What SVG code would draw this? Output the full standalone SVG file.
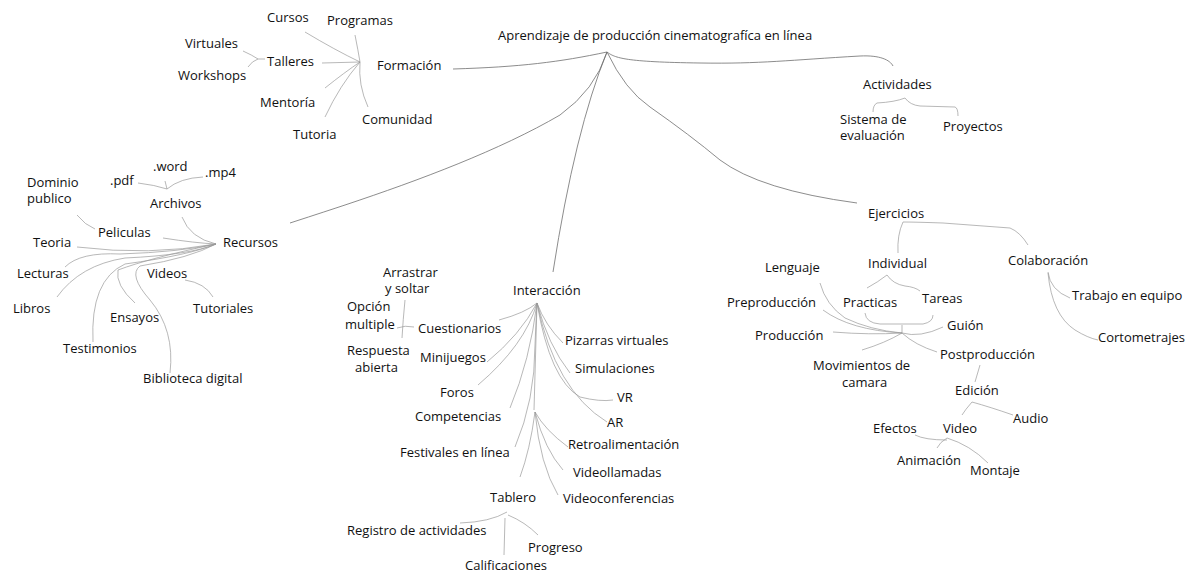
<svg xmlns="http://www.w3.org/2000/svg" width="1199" height="575" viewBox="0 0 1199 575">
<style>
text{font-family:"Open Sans","Noto Sans","Liberation Sans",sans-serif;font-size:13px;fill:#111}
.c{fill:none;stroke:#9a9a9a;stroke-width:0.7}
.m{fill:none;stroke:#6e6e6e;stroke-width:0.8}
</style>
<rect width="1199" height="575" fill="#fff"/>
<g id="connectors">
<path class="m" d="M453,69 C520,67 560,62 607,52"/>
<path class="m" d="M607,52 C615,58 625,62 700,63 C760,64 790,60 860,56 C880,55 890,60 893,66"/>
<path class="m" d="M290,223 Q330,210 345,205 C420,180 500,150 560,115 Q595,90 607,52"/>
<path class="m" d="M607,52 Q575,130 553,272"/>
<path class="m" d="M607,52 Q625,90 650,107 Q690,135 720,160 Q760,190 857,203"/>
<path class="c" d="M305,32 Q335,50 360,62"/>
<path class="c" d="M355,35 Q358,50 360,62"/>
<path class="c" d="M322,63 L360,62"/>
<path class="c" d="M325,88 Q345,72 360,62"/>
<path class="c" d="M325,117 Q340,85 360,62"/>
<path class="c" d="M368,107 Q358,85 360,62"/>
<path class="c" d="M243,51 Q252,55 258,59 M248,67 Q252,61 258,59 M258,59 L265,59"/>
<path class="c" d="M905,98 Q895,102 877,103 Q873,105 873,112 M905,98 Q910,105 920,106 L955,107 Q958,108 958,116"/>
<path class="c" d="M182,217 Q190,238 216,244"/>
<path class="c" d="M163,238 Q195,243 216,244"/>
<path class="c" d="M77,247 Q150,256 216,244"/>
<path class="c" d="M65,267 Q80,252 120,254 Q180,252 216,244"/>
<path class="c" d="M57,297 Q80,265 125,258 Q190,255 216,244"/>
<path class="c" d="M93,342 Q90,280 125,264 Q190,255 216,244"/>
<path class="c" d="M135,303 Q115,285 118,270 Q150,258 216,244"/>
<path class="c" d="M170,373 Q175,330 150,300 Q128,275 140,266 Q190,258 216,244"/>
<path class="c" d="M185,280 Q205,283 213,297"/>
<path class="c" d="M77,215 Q85,225 95,229"/>
<path class="c" d="M138,183 Q155,185 167,189 M165,181 L167,189 M203,177 Q180,178 167,189"/>
<path class="c" d="M499,320 Q525,313 537,303"/>
<path class="c" d="M487,362 Q520,335 537,303"/>
<path class="c" d="M478,385 Q525,345 537,303"/>
<path class="c" d="M510,408 Q530,360 537,303"/>
<path class="c" d="M515,447 Q535,400 535,345 Q536,320 537,303"/>
<path class="c" d="M537,303 L534,410"/>
<path class="c" d="M537,303 Q545,325 563,343"/>
<path class="c" d="M537,303 Q548,345 570,373"/>
<path class="c" d="M537,303 Q550,380 580,397 Q600,402 613,400"/>
<path class="c" d="M537,303 Q555,390 607,422"/>
<path class="c" d="M535,412 Q545,430 568,447"/>
<path class="c" d="M535,412 Q545,450 563,470"/>
<path class="c" d="M535,412 Q540,465 558,495"/>
<path class="c" d="M535,412 Q530,450 520,477"/>
<path class="c" d="M507,512 Q490,522 460,523"/>
<path class="c" d="M505,518 L504,555"/>
<path class="c" d="M508,515 Q525,522 538,535"/>
<path class="c" d="M405,300 Q403,320 402,338 M397,328 Q405,325 414,327"/>
<path class="c" d="M903,222 Q897,235 898,253"/>
<path class="c" d="M903,222 Q915,222 943,223 L1010,228 Q1020,232 1028,245"/>
<path class="c" d="M887,275 Q878,282 867,288 M887,275 Q893,284 905,286 Q915,287 920,291"/>
<path class="c" d="M865,313 Q866,323 880,324 L923,324 Q933,322 933,315 M902,325 L902,333"/>
<path class="c" d="M820,283 Q826,305 845,318 Q870,330 902,333"/>
<path class="c" d="M823,310 Q850,330 902,333"/>
<path class="c" d="M833,332 Q870,335 902,333"/>
<path class="c" d="M902,333 Q920,338 943,327"/>
<path class="c" d="M902,333 Q915,345 937,352"/>
<path class="c" d="M902,333 Q885,343 862,350"/>
<path class="c" d="M1048,272 Q1050,290 1070,298"/>
<path class="c" d="M1048,273 Q1052,315 1075,330 Q1088,338 1098,340"/>
<path class="c" d="M980,365 L975,382"/>
<path class="c" d="M972,402 Q965,410 962,415 M972,402 Q990,407 1013,415"/>
<path class="c" d="M915,435 Q925,440 947,440 M937,448 Q940,442 947,438 M947,438 Q970,445 988,463"/>
</g>
<g id="root"><text x="498" y="40">Aprendizaje de producción cinematografíca en línea</text></g>
<g id="formacion"><text x="377" y="70">Formación</text></g>
<g id="cursos"><text x="267" y="22">Cursos</text></g>
<g id="programas"><text x="327" y="25">Programas</text></g>
<g id="virtuales"><text x="185" y="48">Virtuales</text></g>
<g id="talleres"><text x="267" y="66">Talleres</text></g>
<g id="workshops"><text x="178" y="80">Workshops</text></g>
<g id="mentoria"><text x="260" y="107">Mentoría</text></g>
<g id="tutoria"><text x="293" y="139">Tutoria</text></g>
<g id="comunidad"><text x="362" y="124">Comunidad</text></g>
<g id="actividades"><text x="863" y="89">Actividades</text></g>
<g id="sistema"><text x="840" y="124">Sistema de<tspan x="840" y="140">evaluación</tspan></text></g>
<g id="proyectos"><text x="943" y="131">Proyectos</text></g>
<g id="word"><text x="153" y="171">.word</text></g>
<g id="mp4"><text x="205" y="177">.mp4</text></g>
<g id="pdf"><text x="110" y="185">.pdf</text></g>
<g id="dominio"><text x="27" y="187">Dominio<tspan x="27" y="203">publico</tspan></text></g>
<g id="archivos"><text x="150" y="208">Archivos</text></g>
<g id="peliculas"><text x="98" y="237">Peliculas</text></g>
<g id="recursos"><text x="223" y="247">Recursos</text></g>
<g id="teoria"><text x="33" y="247">Teoria</text></g>
<g id="lecturas"><text x="17" y="278">Lecturas</text></g>
<g id="videos"><text x="147" y="278">Videos</text></g>
<g id="libros"><text x="13" y="313">Libros</text></g>
<g id="tutoriales"><text x="193" y="313">Tutoriales</text></g>
<g id="ensayos"><text x="110" y="322">Ensayos</text></g>
<g id="testimonios"><text x="63" y="353">Testimonios</text></g>
<g id="biblioteca"><text x="143" y="383">Biblioteca digital</text></g>
<g id="arrastrar"><text x="383" y="277">Arrastrar<tspan x="385" y="293">y soltar</tspan></text></g>
<g id="interaccion"><text x="513" y="295">Interacción</text></g>
<g id="opcion"><text x="347" y="311">Opción<tspan x="345" y="329">multiple</tspan></text></g>
<g id="cuestionarios"><text x="418" y="333">Cuestionarios</text></g>
<g id="respuesta"><text x="347" y="355">Respuesta<tspan x="355" y="372">abierta</tspan></text></g>
<g id="minijuegos"><text x="420" y="362">Minijuegos</text></g>
<g id="pizarras"><text x="565" y="345">Pizarras virtuales</text></g>
<g id="simulaciones"><text x="575" y="373">Simulaciones</text></g>
<g id="foros"><text x="440" y="397">Foros</text></g>
<g id="vr"><text x="617" y="402">VR</text></g>
<g id="competencias"><text x="415" y="421">Competencias</text></g>
<g id="ar"><text x="607" y="427">AR</text></g>
<g id="retro"><text x="568" y="449">Retroalimentación</text></g>
<g id="festivales"><text x="400" y="457">Festivales en línea</text></g>
<g id="videollamadas"><text x="573" y="477">Videollamadas</text></g>
<g id="tablero"><text x="490" y="502">Tablero</text></g>
<g id="videoconferencias"><text x="563" y="503">Videoconferencias</text></g>
<g id="registro"><text x="347" y="535">Registro de actividades</text></g>
<g id="progreso"><text x="528" y="552">Progreso</text></g>
<g id="calificaciones"><text x="465" y="570">Calificaciones</text></g>
<g id="ejercicios"><text x="868" y="218">Ejercicios</text></g>
<g id="individual"><text x="868" y="268">Individual</text></g>
<g id="colaboracion"><text x="1008" y="265">Colaboración</text></g>
<g id="trabajo"><text x="1072" y="300">Trabajo en equipo</text></g>
<g id="cortometrajes"><text x="1098" y="342">Cortometrajes</text></g>
<g id="lenguaje"><text x="765" y="272">Lenguaje</text></g>
<g id="preproduccion"><text x="727" y="307">Preproducción</text></g>
<g id="practicas"><text x="843" y="307">Practicas</text></g>
<g id="tareas"><text x="922" y="303">Tareas</text></g>
<g id="guion"><text x="947" y="330">Guión</text></g>
<g id="produccion"><text x="755" y="340">Producción</text></g>
<g id="postproduccion"><text x="940" y="359">Postproducción</text></g>
<g id="movimientos"><text x="813" y="370">Movimientos de<tspan x="842" y="387">camara</tspan></text></g>
<g id="edicion"><text x="955" y="395">Edición</text></g>
<g id="audio"><text x="1013" y="423">Audio</text></g>
<g id="efectos"><text x="873" y="433">Efectos</text></g>
<g id="video"><text x="943" y="433">Video</text></g>
<g id="animacion"><text x="897" y="465">Animación</text></g>
<g id="montaje"><text x="970" y="475">Montaje</text></g>
</svg>
